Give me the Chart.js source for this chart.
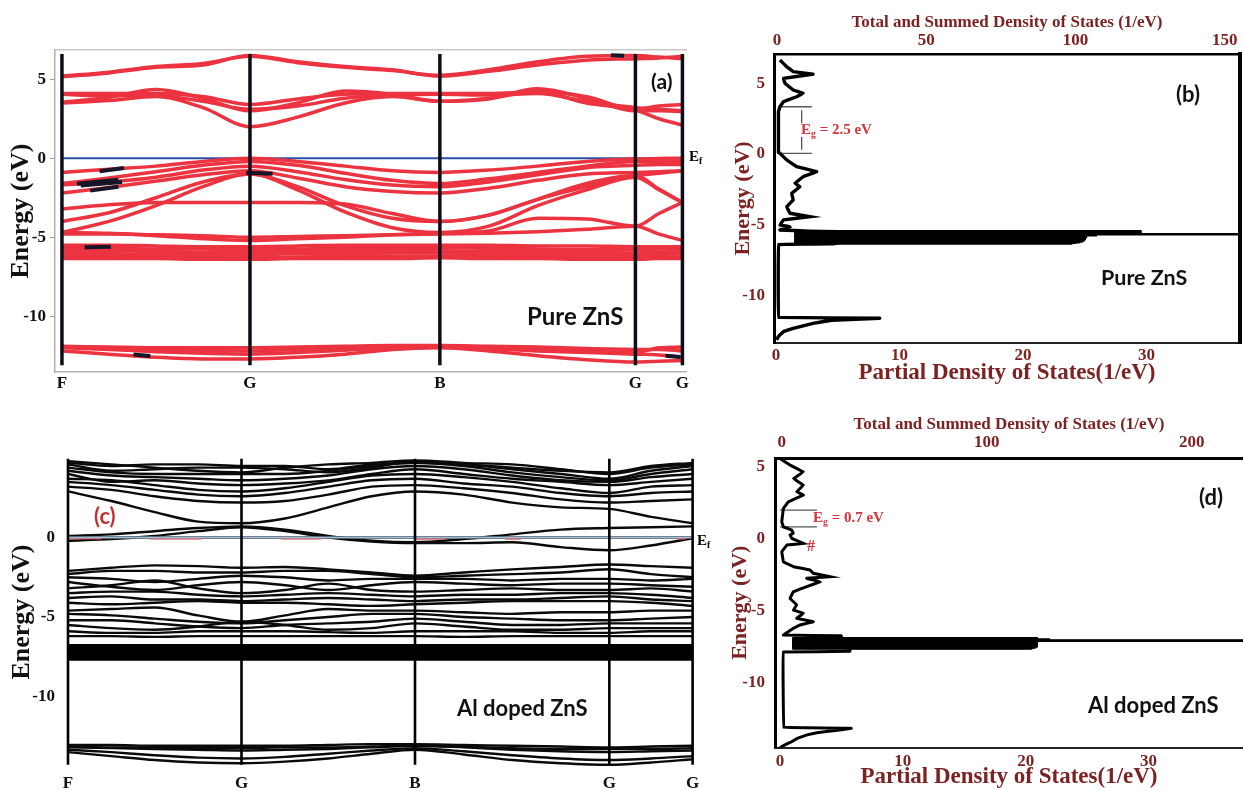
<!DOCTYPE html>
<html><head><meta charset="utf-8">
<script src="https://cdn.jsdelivr.net/npm/chart.js@4/dist/chart.umd.min.js"></script>
<style>
body{margin:0;background:#fff;width:1243px;height:791px;position:relative;overflow:hidden;}
canvas{position:absolute;}
.t{position:absolute;white-space:nowrap;line-height:1;}
.lab{font-family:Lato,"Open Sans",sans-serif;font-weight:700;color:#111;}
.ser{font-family:"Liberation Serif","DejaVu Serif",serif;font-weight:700;}
.red{color:#d8333b;}
sub{font-size:65%;vertical-align:-3px;line-height:0;}
</style></head><body>
<canvas id="ca" width="715" height="400" style="left:0;top:0;width:715px;height:400px"></canvas>
<canvas id="cb" width="528" height="400" style="left:715px;top:0;width:528px;height:400px"></canvas>
<canvas id="cc" width="715" height="391" style="left:0;top:400px;width:715px;height:391px"></canvas>
<canvas id="cd" width="528" height="391" style="left:715px;top:400px;width:528px;height:391px"></canvas>

<div class="t lab" style="left:651px;top:70px;font-size:21px">(a)</div>
<div class="t lab" style="left:527px;top:304px;font-size:24px">Pure ZnS</div>
<div class="t ser" style="left:689px;top:149px;font-size:15px">E<sub>f</sub></div>
<div class="t lab" style="left:1176px;top:83px;font-size:22px">(b)</div>
<div class="t lab" style="left:1101px;top:267px;font-size:21.5px">Pure ZnS</div>
<div class="t ser red" style="left:801px;top:122px;font-size:15px">E<sub>g</sub> = 2.5 eV</div>
<div class="t lab" style="left:94px;top:505px;font-size:22px;color:#c62f2f">(c)</div>
<div class="t lab" style="left:457px;top:697px;font-size:22px">Al doped ZnS</div>
<div class="t ser" style="left:697px;top:533px;font-size:15px">E<sub>f</sub></div>
<div class="t lab" style="left:1199px;top:486px;font-size:22px">(d)</div>
<div class="t lab" style="left:1088px;top:694px;font-size:22px">Al doped ZnS</div>
<div class="t ser red" style="left:813px;top:510px;font-size:15px">E<sub>g</sub> = 0.7 eV</div>
<div class="t ser red" style="left:807px;top:538px;font-size:16px">#</div>

<script>
// ---------------- Panel (a): pure ZnS band structure ----------------
const kA = [0,0.25,0.5,0.75,1,1.2525,1.505,1.7575,2.01,2.27,2.53,2.79,3.05,3.175,3.30];
const symKA = [0,1,2.01,3.05,3.30];
const symLabels = ['F','G','B','G','G'];
const eTicksA = [-10,-5,0,5];
const symSpanA = [-13.1,6.6];
const condA1 = [5.15,5.4,5.75,5.9,6.5,6.1,5.8,5.6,5.2,5.5,5.9,6.2,6.3,6.35,6.45];
const condA2 = [5.2,5.45,5.8,6.0,6.45,6.05,5.75,5.55,5.25,5.6,6.1,6.45,6.5,6.4,6.3];
const condA3 = [4.1,4.1,4.1,3.9,3.4,3.75,4.05,4.1,4.1,4.1,4.2,3.9,3.1,3.3,3.4];
const condA4 = [3.55,3.85,4.35,3.8,3.0,3.5,4.25,4.05,3.6,3.75,4.4,3.8,3.0,3.0,2.95];
const condA5 = [3.5,3.65,3.9,3.2,2.0,2.6,3.5,3.9,3.6,3.8,4.2,3.5,3.05,2.5,2.1];
const condA6 = [4.05,3.95,3.95,3.6,3.1,3.3,3.8,4.0,4.05,4.0,4.1,3.6,3.2,3.1,3.0];
const valA1 = [-0.9,-0.7,-0.5,-0.2,0,-0.2,-0.5,-0.8,-0.9,-0.75,-0.5,-0.2,-0.05,-0.02,0];
const valA2 = [-1.6,-1.25,-0.85,-0.45,-0.2,-0.45,-0.95,-1.4,-1.6,-1.3,-0.9,-0.5,-0.2,-0.2,-0.2];
const valA3 = [-1.7,-1.5,-1.2,-0.75,-0.5,-0.85,-1.35,-1.7,-1.8,-1.5,-1.05,-0.6,-0.45,-0.4,-0.4];
const valA4 = [-2.2,-1.85,-1.45,-1.05,-0.8,-1.25,-1.8,-2.1,-2.2,-1.9,-1.4,-1.0,-0.9,-0.85,-0.8];
const valA5 = [-3.2,-2.95,-2.8,-2.8,-2.8,-2.8,-2.9,-3.5,-4.0,-3.6,-2.6,-1.6,-1.1,-1.95,-2.8];
const valA6 = [-4.0,-3.45,-2.5,-1.5,-1.0,-1.8,-3.0,-3.8,-4.0,-3.6,-2.6,-1.8,-1.1,-0.95,-0.8];
const valA7 = [-4.7,-4.0,-3.0,-1.8,-1.0,-2.0,-3.4,-4.4,-4.7,-4.3,-3.0,-2.0,-1.2,-2.0,-2.8];
const valA8 = [-4.7,-4.75,-4.9,-5.1,-5.2,-5.1,-5.0,-4.85,-4.75,-4.6,-3.8,-3.85,-4.3,-3.5,-2.8];
const valA9 = [-4.8,-4.8,-4.85,-4.9,-5.0,-4.95,-4.9,-4.85,-4.8,-4.75,-4.65,-4.5,-4.3,-4.8,-5.2];
const dA1 = [-5.5,-5.5,-5.55,-5.6,-5.6,-5.55,-5.5,-5.5,-5.5,-5.5,-5.55,-5.55,-5.6,-5.6,-5.6];
const dA2 = [-5.65,-5.7,-5.75,-5.75,-5.8,-5.75,-5.7,-5.7,-5.65,-5.7,-5.75,-5.8,-5.8,-5.75,-5.7];
const dA3 = [-5.85,-5.85,-5.9,-5.95,-5.95,-5.9,-5.85,-5.85,-5.85,-5.9,-5.9,-5.95,-6.0,-5.95,-5.9];
const dA4 = [-6.05,-6.05,-6.1,-6.1,-6.1,-6.05,-6.05,-6.0,-6.0,-6.05,-6.1,-6.1,-6.15,-6.1,-6.05];
const dA5 = [-6.2,-6.2,-6.25,-6.25,-6.3,-6.25,-6.2,-6.2,-6.2,-6.2,-6.25,-6.3,-6.3,-6.25,-6.25];
const dA6 = [-6.35,-6.35,-6.35,-6.4,-6.4,-6.35,-6.35,-6.35,-6.3,-6.35,-6.35,-6.4,-6.4,-6.35,-6.35];
const lowA1 = [-11.9,-11.95,-12.0,-12.0,-12.0,-11.95,-11.9,-11.85,-11.85,-11.9,-11.95,-12.05,-12.1,-12.1,-12.2];
const lowA2 = [-12.0,-12.1,-12.25,-12.35,-12.4,-12.3,-12.15,-12.0,-11.95,-12.05,-12.2,-12.3,-12.4,-12.45,-12.6];
const lowA3 = [-12.2,-12.4,-12.6,-12.7,-12.7,-12.6,-12.4,-12.1,-12.0,-12.2,-12.5,-12.75,-12.9,-12.85,-12.8];
const lowA4 = [-11.95,-12.0,-12.1,-12.15,-12.2,-12.1,-12.0,-11.9,-11.9,-12.0,-12.1,-12.2,-12.3,-12.0,-11.95];
const fermiA = 0;
// dark projection marks on the bands: [k start, E start, k end, E end]
const marksA = [[0.08,-1.62,0.30,-1.36],[0.10,-1.72,0.32,-1.50],[0.15,-2.05,0.30,-1.80],[0.20,-0.82,0.33,-0.62],
                [0.12,-5.63,0.26,-5.60],[0.38,-12.42,0.47,-12.52],[0.98,-0.92,1.12,-0.98],[2.92,6.52,2.99,6.48],[3.21,-12.5,3.29,-12.58]];

// ---------------- Panel (c): Al doped ZnS band structure ----------------
const kC = [0,0.25,0.5,0.75,1,1.25,1.5,1.75,2,2.28,2.56,2.84,3.12,3.36,3.60];
const symKC = [0,1,2,3.12,3.60];
const eTicksC = [-10,-5,0];
const symSpanC = [-14.3,4.95];
const condC1 = [2.9,2.3,1.6,1.0,0.9,1.2,1.9,2.6,2.9,2.7,2.2,1.9,1.8,1.3,0.9];
const condC2 = [3.2,3.0,2.6,2.3,2.2,2.3,2.7,3.2,3.3,3.1,2.8,2.4,2.2,2.3,2.4];
const condC3 = [3.5,3.3,3.0,2.7,2.6,2.8,3.2,3.6,3.7,3.4,3.2,2.8,2.6,2.8,2.9];
const condC4 = [3.7,3.6,3.3,3.0,2.9,3.1,3.5,3.9,4.0,3.8,3.5,3.1,2.8,3.2,3.3];
const condC5 = [4.0,3.5,3.6,3.4,3.3,3.4,3.6,4.0,4.3,4.0,3.7,3.5,3.3,3.5,3.7];
const condC6 = [4.2,3.9,3.8,3.7,3.6,3.7,3.9,4.3,4.5,4.3,3.9,3.6,3.5,3.8,4.0];
const condC7 = [4.4,4.1,4.0,4.0,4.0,4.0,4.2,4.5,4.7,4.5,4.1,3.8,3.6,4.0,4.3];
const condC8 = [4.6,4.2,4.3,4.4,4.4,4.3,4.1,4.4,4.8,4.6,4.3,4.0,3.7,4.2,4.5];
const condC9 = [4.8,4.6,4.4,4.2,4.1,4.4,4.6,4.7,4.85,4.7,4.6,4.3,4.0,4.4,4.6];
const condC10 = [4.7,4.5,4.6,4.6,4.5,4.5,4.3,4.6,4.7,4.6,4.4,4.2,4.1,4.5,4.7];
const nearC1 = [0.1,0.2,0.4,0.6,0.7,0.5,0.1,-0.2,-0.3,-0.1,0.2,0.5,0.6,0.65,0.7];
const nearC2 = [-0.2,-0.1,0.1,0.4,0.65,0.4,0.0,-0.25,-0.35,-0.35,-0.3,-0.6,-0.8,-0.5,-0.05];
const nearC3 = [0,0,0,0,0,0,0,0,0,0,0,0,0,0,0];
const valC1 = [-2.1,-1.9,-1.75,-1.8,-1.9,-1.85,-2.0,-2.2,-2.4,-2.2,-2.0,-1.85,-1.7,-1.8,-1.9];
const valC2 = [-2.3,-2.1,-2.1,-2.2,-2.2,-2.1,-2.1,-2.3,-2.5,-2.4,-2.3,-2.2,-2.0,-2.3,-2.5];
const valC3 = [-2.5,-2.6,-2.8,-2.6,-2.4,-2.5,-2.7,-2.6,-2.6,-2.6,-2.7,-2.6,-2.6,-2.7,-2.6];
const valC4 = [-2.8,-3.1,-3.3,-3.0,-2.8,-3.0,-3.3,-3.0,-2.8,-2.9,-3.0,-2.9,-2.9,-3.0,-3.1];
const valC5 = [-3.2,-3.0,-2.7,-3.2,-3.5,-3.3,-2.9,-3.3,-3.4,-3.3,-3.2,-3.3,-3.3,-3.2,-3.4];
const valC6 = [-3.5,-3.4,-3.4,-3.6,-3.7,-3.6,-3.5,-3.6,-3.7,-3.6,-3.6,-3.5,-3.5,-3.6,-3.8];
const valC7 = [-3.8,-3.7,-3.9,-3.9,-4.0,-3.9,-3.8,-3.9,-4.0,-3.9,-3.9,-3.8,-3.7,-3.9,-4.0];
const valC8 = [-4.1,-4.2,-4.1,-4.0,-4.1,-4.1,-4.2,-4.3,-4.2,-4.1,-4.0,-4.0,-4.0,-4.1,-4.3];
const valC9 = [-4.6,-4.5,-4.4,-4.9,-5.3,-4.9,-4.5,-4.6,-4.6,-4.7,-4.8,-4.7,-4.7,-4.6,-4.6];
const valC10 = [-4.8,-4.9,-5.1,-5.3,-5.4,-5.2,-5.0,-4.8,-4.8,-5.0,-5.1,-5.2,-5.2,-5.1,-5.0];
const valC11 = [-5.2,-5.2,-5.4,-5.6,-5.7,-5.5,-5.4,-5.3,-5.1,-5.3,-5.5,-5.5,-5.4,-5.4,-5.4];
const valC12 = [-5.5,-5.7,-5.8,-5.6,-5.3,-5.5,-5.8,-5.7,-5.4,-5.6,-5.8,-5.8,-5.7,-5.7,-5.7];
const valC13 = [-5.9,-6.0,-6.0,-5.9,-5.9,-5.9,-5.95,-6.0,-5.9,-5.9,-5.9,-6.0,-6.0,-5.9,-5.9];
const valC14 = [-6.2,-6.2,-6.25,-6.2,-6.2,-6.2,-6.2,-6.2,-6.2,-6.25,-6.2,-6.2,-6.2,-6.2,-6.2];
const dBlockC = [-6.8,-6.9,-7.0,-7.1,-7.2,-7.3,-7.4,-7.5,-7.6,-7.65];
const lowC1 = [-13.05,-13.05,-13.1,-13.1,-13.1,-13.1,-13.05,-13.0,-13.0,-13.05,-13.1,-13.15,-13.2,-13.15,-13.1];
const lowC2 = [-13.2,-13.25,-13.3,-13.35,-13.4,-13.35,-13.3,-13.2,-13.1,-13.2,-13.35,-13.45,-13.5,-13.45,-13.4];
const lowC3 = [-13.35,-13.5,-13.7,-13.85,-13.9,-13.8,-13.6,-13.4,-13.25,-13.45,-13.7,-13.9,-14.0,-13.9,-13.75];
const lowC4 = [-13.5,-13.75,-14.0,-14.15,-14.2,-14.1,-13.9,-13.6,-13.35,-13.65,-14.0,-14.2,-14.3,-14.15,-13.95];
const lowC5 = [-13.15,-13.2,-13.2,-13.25,-13.25,-13.2,-13.2,-13.15,-13.1,-13.15,-13.25,-13.3,-13.3,-13.3,-13.25];
const fermiC = 0;
// short red segments lying along the Fermi level: [k start, k end]
const fermiRedC = [[0.0,0.19],[0.47,0.77],[1.23,1.46],[2.0,2.17],[2.52,2.61],[3.51,3.56]];
const fermiRedE = -0.08;

// ---------------- Panel (b): pure ZnS DOS (energy, partial DOS) ----------------
const dosB_E = [6.64,6.17,5.82,5.65,5.35,5.0,4.52,4.29,4.05,3.7,3.34,3.0,2.0,1.0,0.1,0.05,-0.42,-0.9,-1.25,-1.6,-2.07,-2.31,-2.78,-3.25,-3.72,-4.19,-4.43,-4.66,-5.02,-5.14,-5.37,
 -5.45,-5.50,-6.30,-6.34,-6.40,-9.0,-11.55,-11.61,-11.75,-11.97,-12.32,-12.56,-12.9,-13.14];
const dosB_D = [0.32,0.87,1.4,3.0,0.6,0.73,1.4,2.2,1.68,0.6,0.32,0.2,0.2,0.2,0.2,0.32,0.87,1.68,3.3,2.2,1.54,1.94,1.27,1.4,0.87,1.13,2.75,0.6,0.32,1.13,0.32,
 2.7,5.0,5.0,4.7,0.2,0.18,0.2,8.4,4.5,3.0,1.4,0.6,0.2,0.05];
// dense spiky block near -6 eV: energy of each row and its partial-DOS extent
const blockB_E = [-5.48,-5.53,-5.58,-5.62,-5.67,-5.71,-5.76,-5.80,-5.85,-5.89,-5.94,-5.98,-6.03,-6.07,-6.12,-6.16,-6.21,-6.25,-6.30];
const blockB_D = [29.6,29.6,28.0,27.0,37.4,26.0,25.0,25.0,25.2,25.0,25.0,25.1,25.0,25.0,24.9,24.8,24.6,24.3,24.0];
const blockB_L = 1.5;
const gapB = [0.05,3.34];
const gapB_x = [0.15,2.9];
const eTicksB = [-10,-5,0,5];
const pdosTicksB = [0,10,20,30];
const totTicksB = [0,50,100,150];

// ---------------- Panel (d): Al doped ZnS DOS ----------------
const dosD_E = [5.6,5.14,4.67,4.2,3.75,3.28,3.06,2.59,2.13,1.2,0.85,0.63,0.4,0.28,0.05,-0.3,-0.42,-0.88,-1.58,-1.92,-2.15,-2.38,-2.62,-2.73,-2.97,-3.31,-3.66,-4.12,-4.58,-4.93,-5.16,-5.51,-5.74,-5.97,-6.2,-6.67,
 -6.72,-6.86,-6.90,-7.60,-7.80,-7.85,-10.0,-13.08,-13.15,-13.3,-13.45,-13.6,-13.85,-14.1,-14.3,-14.5];
const dosD_D = [0,0.8,1.9,1.1,1.9,1.36,1.9,0.68,0.27,0.14,0.27,0.95,1.08,0.81,0.95,1.9,0.55,0.14,0.27,1.08,2.44,2.71,4.07,2.17,3.26,2.17,1.08,0.81,1.36,1.08,1.9,1.36,2.71,1.63,1.08,0.27,
 5.0,5.0,2.0,5.7,5.7,0.25,0.25,0.3,5.8,4.5,3.0,2.2,1.4,0.9,0.4,0];
const blockD_E = [-6.92,-6.96,-7.00,-7.04,-7.07,-7.11,-7.15,-7.19,-7.23,-7.27,-7.31,-7.35,-7.39,-7.43,-7.47,-7.51,-7.55,-7.58];
const blockD_D = [21.0,21.0,22.0,37.7,37.7,21.0,21.0,21.0,21.0,21.0,21.0,21.0,21.0,21.0,20.9,20.8,20.6,20.5];
const blockD_L = 1.0;
const gapD = [0.85,2.01];
const gapD_x = [0.0,3.0];
const eTicksD = [-10,-5,0,5];
const pdosTicksD = [0,10,20,30];
const totTicksD = [0,100,200];

// ---------------- helpers ----------------
const SERIF = '"Liberation Serif","DejaVu Serif",serif';
const MAROON = '#7d2222';
const BANDRED = '#ec3340';
function band(ks, arr, color, w){
  return {data: arr.map((e,i)=>({x:ks[i], y:e})), borderColor:color, borderWidth:w, pointRadius:0,
          cubicInterpolationMode:'monotone', fill:false, order:2};
}
function flat(ks, lv, color, w){
  return {data:[{x:ks[0],y:lv},{x:ks[ks.length-1],y:lv}], borderColor:color, borderWidth:w, pointRadius:0, fill:false, order:2};
}
function seg(x1,y1,x2,y2,color,w,order){
  return {data:[{x:x1,y:y1},{x:x2,y:y2}], borderColor:color, borderWidth:w, pointRadius:0, fill:false, order:order};
}
function vline(k, span, color, w){ return seg(k,span[0],k,span[1],color,w,0); }
function dos(E, D, w){
  return {data: D.map((d,i)=>({x:d, y:E[i]})), borderColor:'#000', borderWidth:w, pointRadius:0, tension:0.01, fill:false, order:1};
}
function fixTicks(vals){ return s => { s.ticks = vals.map(v=>({value:v})); }; }
const base = {responsive:false, animation:false, devicePixelRatio:1, events:[],
  plugins:{legend:{display:false}, tooltip:{enabled:false}}};

// ---------------- Chart (a) ----------------
{
  const ds = [];
  symKA.forEach(k=>ds.push(vline(k, symSpanA, '#0d0d1a', 3.5)));
  ds.push(seg(symKA[0],fermiA,symKA[4],fermiA,'#2b4fa8',2.2,3));
  [condA1,condA2,condA3,condA4,condA5,condA6,valA1,valA2,valA3,valA4,valA5,valA6,valA7,valA8,valA9,
   dA1,dA2,dA3,dA4,dA5,dA6,lowA1,lowA2,lowA3,lowA4].forEach(b=>ds.push(band(kA,b,BANDRED,3.5)));
  marksA.forEach(m=>ds.push(seg(m[0],m[1],m[2],m[3],'#161628',4,1)));
  new Chart(document.getElementById('ca'), {type:'line', data:{datasets:ds}, options:{...base,
    layout:{padding:{left:0,right:29,top:50,bottom:0}},
    scales:{
      x:{type:'linear', position:'bottom', min:-0.037, max:3.319, afterBuildTicks:fixTicks(symKA),
         afterFit:s=>{s.height=28;},
         ticks:{callback:(v,i)=>symLabels[i], autoSkip:false, maxRotation:0, padding:3, color:'#111', font:{family:SERIF,weight:'bold',size:17,lineHeight:1}},
         grid:{display:true, drawOnChartArea:false, drawTicks:false}, border:{display:true,color:'#b5b5b5',width:1.5}},
      xt:{type:'linear', position:'top', min:0, max:1, ticks:{display:false}, grid:{display:false},
         border:{display:true,color:'#c8c8c8',width:1.5}, afterFit:s=>{s.height=0;}},
      y:{type:'linear', min:-13.53, max:6.85, afterBuildTicks:fixTicks(eTicksA), afterFit:s=>{s.width=55;},
         ticks:{padding:4, color:'#111', font:{family:SERIF,weight:'bold',size:17,lineHeight:1}},
         grid:{display:true, drawOnChartArea:false, drawTicks:true, tickLength:5, color:'#999'},
         border:{display:true,color:'#b0b0b0',width:1.5},
         title:{display:true, text:'Energy (eV)', color:'#111', font:{family:SERIF,weight:'bold',size:26,lineHeight:1}, padding:{top:8,bottom:0}}}
    }}});
}

// ---------------- Chart (c) ----------------
{
  const ds = [];
  symKC.forEach(k=>ds.push(vline(k, symSpanC, '#000', 2.6)));
  ds.push(seg(symKC[0],fermiC,symKC[4],fermiC,'#9fbdd6',2,1));
  fermiRedC.forEach(r=>ds.push(seg(r[0],fermiRedE,r[1],fermiRedE,'#d23c3c',1.6,1)));
  [condC1,condC2,condC3,condC4,condC5,condC6,condC7,condC8,condC9,condC10,nearC1,nearC2,nearC3,
   valC1,valC2,valC3,valC4,valC5,valC6,valC7,valC8,valC9,valC10,valC11,valC12,valC13,valC14,
   lowC1,lowC2,lowC3,lowC4,lowC5].forEach(b=>ds.push(band(kC,b,'#0a0a0a',2.4)));
  dBlockC.forEach(lv=>ds.push(flat(kC,lv,'#000',3)));
  new Chart(document.getElementById('cc'), {type:'line', data:{datasets:ds}, options:{...base,
    layout:{padding:{left:0,right:21,top:56,bottom:0}},
    scales:{
      x:{type:'linear', position:'bottom', min:-0.0115, max:3.608, afterBuildTicks:fixTicks(symKC),
         afterFit:s=>{s.height=23;},
         ticks:{callback:(v,i)=>symLabels[i], autoSkip:false, maxRotation:0, padding:7, color:'#111', font:{family:SERIF,weight:'bold',size:17,lineHeight:1}},
         grid:{display:true, drawOnChartArea:false, drawTicks:false}, border:{display:false}},
      y:{type:'linear', min:-14.5, max:5.13, afterBuildTicks:fixTicks(eTicksC), afterFit:s=>{s.width=66;},
         ticks:{padding:11, color:'#111', font:{family:SERIF,weight:'bold',size:17,lineHeight:1}},
         grid:{display:true, drawOnChartArea:false, drawTicks:false}, border:{display:false},
         title:{display:true, text:'Energy (eV)', color:'#111', font:{family:SERIF,weight:'bold',size:26,lineHeight:1}, padding:{top:9,bottom:0}}}
    }}});
}

// ---------------- DOS chart factory ----------------
function dosChart(id, cfg){
  const ds = [dos(cfg.E, cfg.D, cfg.w)];
  cfg.bE.forEach((e,i)=>ds.push(seg(cfg.bL,e,cfg.bD[i],e,'#000',(cfg.bD[i]>30?2.4:3.2),1)));
  // band gap markers
  ds.push(seg(cfg.gx[0],cfg.gap[0],cfg.gx[1],cfg.gap[0],'#555',1.3,2));
  ds.push(seg(cfg.gx[0],cfg.gap[1],cfg.gx[1],cfg.gap[1],'#555',1.3,2));
  if (cfg.dash) cfg.dash.forEach(sg=>ds.push(seg(cfg.dashX,sg[0],cfg.dashX,sg[1],'#555',1.3,2)));
  const tf = {family:SERIF,weight:'bold',size:17,lineHeight:1};
  new Chart(document.getElementById(id), {type:'line', data:{datasets:ds}, options:{...base,
    layout:{padding:{left:0,right:cfg.padR,top:0,bottom:cfg.padB}},
    scales:{
      x:{type:'linear', position:'bottom', min:cfg.xmin, max:cfg.xmax, afterBuildTicks:fixTicks(cfg.pt), afterFit:s=>{s.height=cfg.hB;},
         ticks:{padding:cfg.tpB, color:MAROON, font:tf, maxRotation:0},
         grid:{display:true, drawOnChartArea:false, drawTicks:false}, border:{display:true,color:'#222',width:2},
         title:{display:true, text:'Partial Density of States(1/eV)', color:MAROON, font:{family:SERIF,weight:'bold',size:23,lineHeight:1}, padding:{top:0,bottom:0}}},
      x2:{type:'linear', position:'top', min:cfg.tmin, max:cfg.tmax, afterBuildTicks:fixTicks(cfg.tt), afterFit:s=>{s.height=cfg.hT;},
         ticks:{padding:cfg.tpT, color:MAROON, font:tf, maxRotation:0},
         grid:{display:true, drawOnChartArea:false, drawTicks:false}, border:{display:true,color:'#000',width:cfg.topW},
         title:{display:true, text:'Total and Summed Density of States (1/eV)', color:MAROON, font:{family:SERIF,weight:'bold',size:17,lineHeight:1}, padding:{top:cfg.ttp,bottom:0}}},
      y:{type:'linear', position:'left', min:cfg.ymin, max:cfg.ymax, afterBuildTicks:fixTicks(cfg.et), afterFit:s=>{s.width=cfg.wY;},
         ticks:{padding:cfg.tpY, color:MAROON, font:tf},
         grid:{display:true, drawOnChartArea:false, drawTicks:false}, border:{display:true,color:'#000',width:3},
         title:{display:true, text:'Energy (eV)', color:MAROON, font:{family:SERIF,weight:'bold',size:22,lineHeight:1}, padding:{top:cfg.ytp,bottom:0}}},
      yR:{type:'linear', position:'right', min:0, max:1, ticks:{display:false}, grid:{display:false},
         border:{display:cfg.rightW>0,color:'#000',width:cfg.rightW}, afterFit:s=>{s.width=0;}}
    }}});
}

dosChart('cb', {E:dosB_E, D:dosB_D, w:3.4, bE:blockB_E, bD:blockB_D, bL:blockB_L,
  gap:gapB, gx:gapB_x, dash:[[3.1,2.2],[1.2,0.3]], dashX:2.08,
  xmin:-0.16, xmax:37.57, tmin:-1.0, tmax:155.1, ymin:-13.36, ymax:7.07,
  pt:pdosTicksB, tt:totTicksB, et:eTicksB,
  padR:3, padB:15, hB:42, hT:54, wY:59, tpB:4, tpT:5, tpY:9, ttp:14, ytp:17, topW:2.5, rightW:4});

dosChart('cd', {E:dosD_E, D:dosD_D, w:3, bE:blockD_E, bD:blockD_D, bL:blockD_L,
  gap:gapD, gx:gapD_x, dash:null,
  xmin:-0.41, xmax:37.7, tmin:-3.3, tmax:225, ymin:-14.48, ymax:5.63,
  pt:pdosTicksD, tt:totTicksD, et:eTicksD,
  padR:0, padB:2, hB:41.5, hT:58, wY:60, tpB:6, tpT:7, tpY:10, ttp:16, ytp:14, topW:3, rightW:0});
</script>
</body></html>
